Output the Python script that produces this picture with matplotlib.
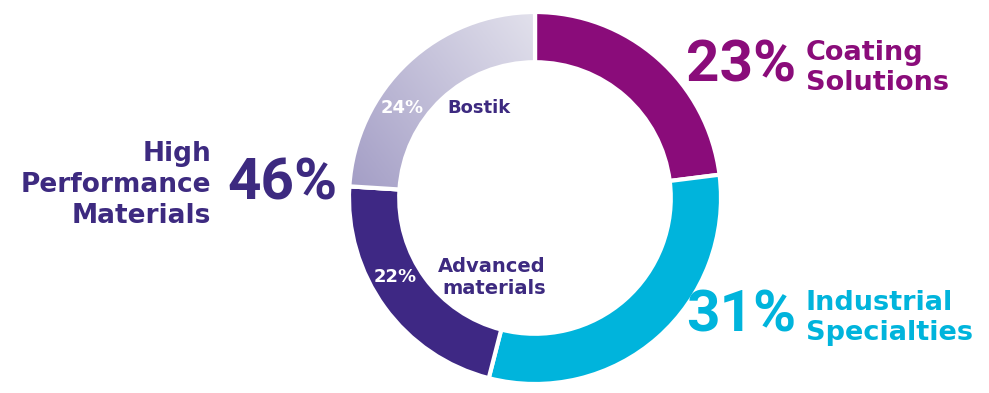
"""Arkema sales split donut chart."""
import numpy as np
import matplotlib.pyplot as plt
from matplotlib.patches import Wedge
from matplotlib.colors import LinearSegmentedColormap

# segment data, clockwise from 12 o'clock
segments = ["Coating Solutions", "Industrial Specialties", "Advanced materials", "Bostik"]
shares = [23, 31, 22, 24]
colors = ["#8a0c7a", "#00b4dc", "#3e2884", "#c4c1db"]

# group label
hpm_label = "High\nPerformance\nMaterials"
hpm_share = 46

purple_text = "#3d2a80"
W, H = 989, 393

fig = plt.figure(figsize=(W / 100, H / 100), dpi=100)
ax = fig.add_axes([0, 0, 1, 1])

cx, cy, r = 535, 393 - 198, 186
wedges, _ = ax.pie(shares, colors=colors, startangle=90, counterclock=False,
	center=(cx, cy), radius=r, frame=True,
	wedgeprops=dict(width=r * 0.27, edgecolor="white", linewidth=3))

# Bostik: gradient fill, light at top right, darker towards lower left
bostik = wedges[3]
cmap = LinearSegmentedColormap.from_list("bostik", ["#9f99c3", "#e2e1ec"])
gx, gy = np.meshgrid(np.linspace(0, 1, 200), np.linspace(0, 1, 200))
grad = gx * 0.55 + gy * 0.45
img = ax.imshow(grad, cmap=cmap, origin="lower", extent=(cx - r, cx, cy - 20, cy + r),
	zorder=bostik.get_zorder() + 0.1, interpolation="bilinear")
img.set_clip_path(bostik)
bostik.set_facecolor("none")
ax.add_patch(Wedge(bostik.center, bostik.r, bostik.theta1, bostik.theta2, width=bostik.width,
	facecolor="none", edgecolor="white", linewidth=3, zorder=img.get_zorder() + 0.1))

ax.set_xlim(0, W)
ax.set_ylim(0, H)
ax.set_aspect("equal")
ax.axis("off")

big = dict(fontsize=42, fontweight="bold", family=["Roboto", "DejaVu Sans"])
mid = dict(fontsize=19, fontweight="bold", family="DejaVu Sans", linespacing=1.25)
small = dict(fontsize=13, fontweight="bold", family="DejaVu Sans", linespacing=1.2)

# outside labels
ax.text(741, H - 66, f"{shares[0]}%", color=colors[0], ha="center", va="center", **big)
ax.text(806, H - 68, "Coating\nSolutions", color=colors[0], ha="left", va="center",
	**{**mid, "fontsize": 19.5})
ax.text(741, H - 316, f"{shares[1]}%", color=colors[1], ha="center", va="center", **big)
ax.text(806, H - 318, "Industrial\nSpecialties", color=colors[1], ha="left", va="center",
	**{**mid, "fontsize": 19.5})
ax.text(282, H - 184, f"{hpm_share}%", color=purple_text, ha="center", va="center", **big)
ax.text(211, H - 185, hpm_label, color=purple_text, ha="right", va="center", **mid)

# inside labels
ax.text(402, H - 108, f"{shares[3]}%", color="white", ha="center", va="center", **small)
ax.text(447, H - 108, segments[3], color=purple_text, ha="left", va="center", **small)
ax.text(395, H - 277, f"{shares[2]}%", color="white", ha="center", va="center", **small)
ax.text(546, H - 278, "Advanced\nmaterials", color=purple_text, ha="right", va="center",
	multialignment="right", **{**small, "fontsize": 14})

fig.savefig("out.png", dpi=100)
